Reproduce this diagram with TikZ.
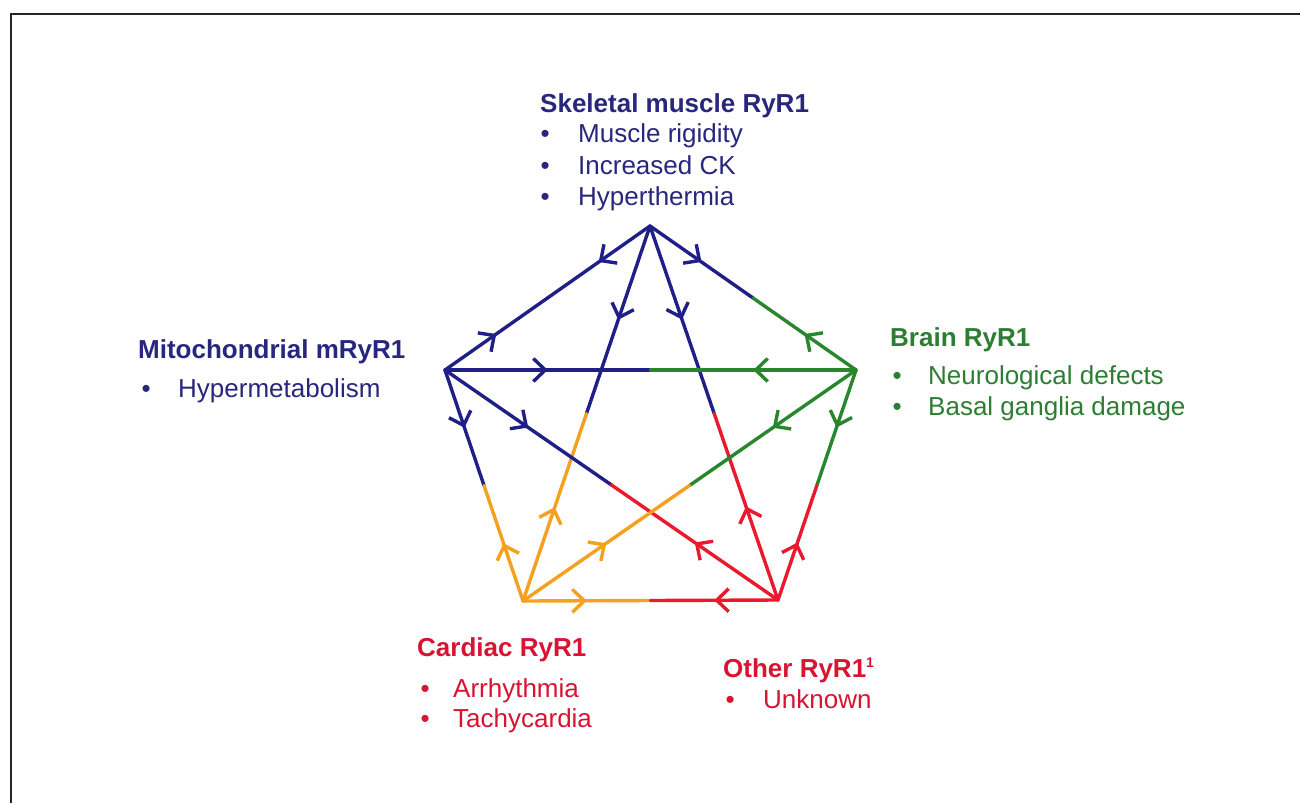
\documentclass[tikz,border=0pt]{standalone}
\usepackage{fontspec}
\setmainfont{Liberation Sans}
\usetikzlibrary{arrows.meta,decorations.markings,calc}
\definecolor{cB}{RGB}{32,30,135}
\definecolor{cG}{RGB}{40,135,45}
\definecolor{cO}{RGB}{245,160,30}
\definecolor{cR}{RGB}{235,25,45}
\definecolor{tB}{RGB}{40,38,125}
\definecolor{tG}{RGB}{45,125,50}
\definecolor{tR}{RGB}{215,20,50}
\tikzset{
  half/.style={line width=3.4pt, line cap=round,
    decoration={markings, mark=at position 0.5 with {\arrow{Straight Barb[length=12pt,width=23pt]}}},
    postaction={decorate}},
  ttl/.style={anchor=base west, inner sep=0pt, font=\fontsize{26}{31}\selectfont\bfseries},
  itm/.style={anchor=base west, inner sep=0pt, font=\fontsize{26}{31}\selectfont},
}
\newcommand\halfedge[3]{\draw[half,#3] (#1) -- ($(#1)!0.5!(#2)$);}
\newcommand\bul[1]{\makebox[#1][l]{\textbullet}}
\begin{document}
\begin{tikzpicture}[x=1pt,y=-1pt]
\useasboundingbox (0,0) rectangle (1300,803);
\fill[white] (0,0) rectangle (1300,803);
\draw[line width=1.6pt, black!85] (11,803) -- (11,14) -- (1300,14);

% vertices
\coordinate (T) at (650,226);
\coordinate (L) at (445,370);
\coordinate (R) at (856,370);
\coordinate (BL) at (523,601);
\coordinate (BR) at (778,600);

% edges (each half in the colour of its vertex)
\halfedge{T}{L}{cB}  \halfedge{L}{T}{cB}
\halfedge{T}{R}{cB}  \halfedge{R}{T}{cG}
\halfedge{T}{BL}{cB} \halfedge{BL}{T}{cO}
\halfedge{T}{BR}{cB} \halfedge{BR}{T}{cR}
\halfedge{L}{R}{cB}  \halfedge{R}{L}{cG}
\halfedge{L}{BL}{cB} \halfedge{BL}{L}{cO}
\halfedge{L}{BR}{cB} \halfedge{BR}{L}{cR}
\halfedge{R}{BL}{cG} \halfedge{BL}{R}{cO}
\halfedge{R}{BR}{cG} \halfedge{BR}{R}{cR}
\halfedge{BL}{BR}{cO} \halfedge{BR}{BL}{cR}

% labels
\node[ttl, text=tB] (skt) at (540,112) {Skeletal muscle RyR1};
\node[itm, text=tB] (sk1) at (540.5,142) {\bul{37.5pt}Muscle rigidity};
\node[itm, text=tB] (sk2) at (540.5,174) {\bul{37.5pt}Increased CK};
\node[itm, text=tB] (sk3) at (540.5,205) {\bul{37.5pt}Hyperthermia};

\node[ttl, text=tB] (mit) at (138,358) {Mitochondrial mRyR1};
\node[itm, text=tB] (mi1) at (141.5,397) {\bul{36.5pt}Hypermetabolism};

\node[ttl, text=tG] (brt) at (890,346) {Brain RyR1};
\node[itm, text=tG] (br1) at (892.5,384) {\bul{35.5pt}Neurological defects};
\node[itm, text=tG] (br2) at (892.5,415) {\bul{35.5pt}Basal ganglia damage};

\node[ttl, text=tR] (cat) at (417,656) {Cardiac RyR1};
\node[itm, text=tR] (ca1) at (420.5,697) {\bul{32.5pt}Arrhythmia};
\node[itm, text=tR] (ca2) at (420.5,727) {\bul{32.5pt}Tachycardia};

\node[ttl, text=tR] (oth) at (723,677) {Other RyR1\raisebox{10pt}{\fontsize{14}{14}\selectfont 1}};
\node[itm, text=tR] (ot1) at (725.5,708) {\bul{37.5pt}Unknown};
\end{tikzpicture}
\end{document}
